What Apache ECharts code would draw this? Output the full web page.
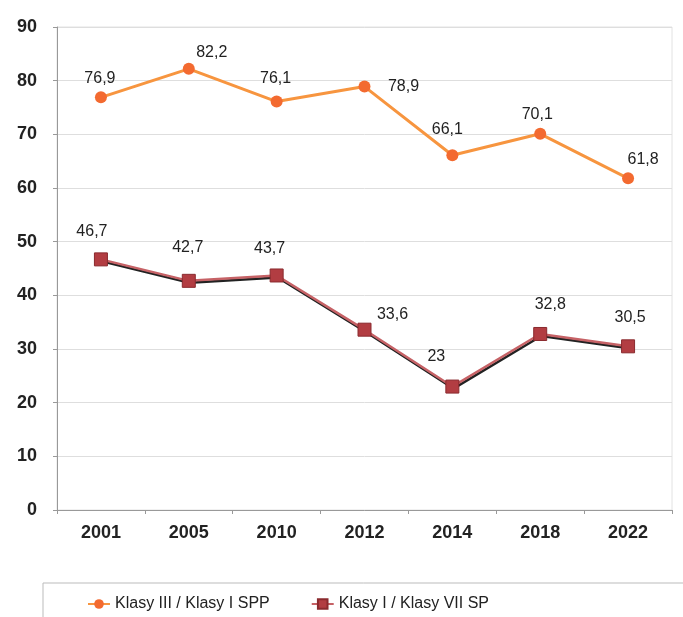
<!DOCTYPE html>
<html>
<head>
<meta charset="utf-8">
<script src="https://cdn.jsdelivr.net/npm/echarts@6/dist/echarts.min.js"></script>
<style>
  html, body { margin: 0; padding: 0; background: #fff; }
  #chart { width: 683px; height: 617px; }
</style>
</head>
<body>
<div id="chart"></div>
<script>
const years = ['2001', '2005', '2010', '2012', '2014', '2018', '2022']
const sppValues = [76.9, 82.2, 76.1, 78.9, 66.1, 70.1, 61.8]
const spValues = [46.7, 42.7, 43.7, 33.6, 23, 32.8, 30.5]
const seriesNames = ['Klasy III / Klasy I SPP', 'Klasy I / Klasy VII SP']

// label offsets from the point centre, as placed in the picture
const sppLabelOffset = [[-1, -19], [23, -16], [-1, -23], [39, 0], [-5, -26], [-3, -19], [15, -19]]
const spLabelOffset = [[-9, -28], [-1, -33], [-7, -27], [28, -15], [-16, -30], [10, -29], [2, -29]]

const fmt = (p) => String(p.value).replace('.', ',')

const withLabels = (values, offsets) => values.map((v, i) => ({
  value: v,
  label: { offset: offsets[i] }
}))

const chart = echarts.init(document.getElementById('chart'))

chart.setOption({
  animation: false,
  textStyle: { fontFamily: 'Liberation Sans, Arial, sans-serif' },
  grid: {
    left: 57,
    right: 11,
    top: 27,
    bottom: 107,
    show: true,
    borderColor: '#e2e2e2',
    borderWidth: 1
  },
  legend: {
    left: 82,
    top: 591,
    itemWidth: 22,
    itemHeight: 12,
    itemGap: 41,
    textStyle: { fontSize: 16, color: '#222' },
    data: seriesNames
  },
  graphic: [{
    type: 'rect',
    shape: { x: 43, y: 583, width: 700, height: 100 },
    style: { fill: 'none', stroke: '#bbb', lineWidth: 1 },
    silent: true
  }],
  xAxis: {
    type: 'category',
    boundaryGap: true,
    data: years,
    axisLine: { lineStyle: { color: '#999' } },
    axisTick: { show: true, length: 4, lineStyle: { color: '#999' } },
    axisLabel: { color: '#222', fontSize: 18, fontWeight: 'bold', margin: 14 }
  },
  yAxis: {
    type: 'value',
    min: 0,
    max: 90,
    interval: 10,
    axisLine: { show: true, lineStyle: { color: '#999' } },
    axisTick: { show: true, length: 4, lineStyle: { color: '#999' } },
    axisLabel: { color: '#222', fontSize: 18, fontWeight: 'bold', margin: 20 },
    splitLine: { lineStyle: { color: '#dedede' } }
  },
  series: [
    {
      name: seriesNames[0],
      type: 'line',
      data: withLabels(sppValues, sppLabelOffset),
      symbol: 'circle',
      symbolSize: 12,
      itemStyle: { color: '#f36a30' },
      lineStyle: { color: '#f7953f', width: 3 },
      label: { show: true, position: 'inside', formatter: fmt, fontSize: 16, color: '#222' }
    },
    {
      name: seriesNames[1],
      type: 'line',
      data: withLabels(spValues, spLabelOffset),
      symbol: 'rect',
      symbolSize: 13,
      itemStyle: { color: '#b23d42', borderColor: '#8a2a2e', borderWidth: 1 },
      lineStyle: {
        color: '#c66266',
        width: 2.5,
        shadowColor: '#222',
        shadowOffsetX: 1,
        shadowOffsetY: 2,
        shadowBlur: 0
      },
      label: { show: true, position: 'inside', formatter: fmt, fontSize: 16, color: '#222' }
    }
  ]
})
</script>
</body>
</html>
